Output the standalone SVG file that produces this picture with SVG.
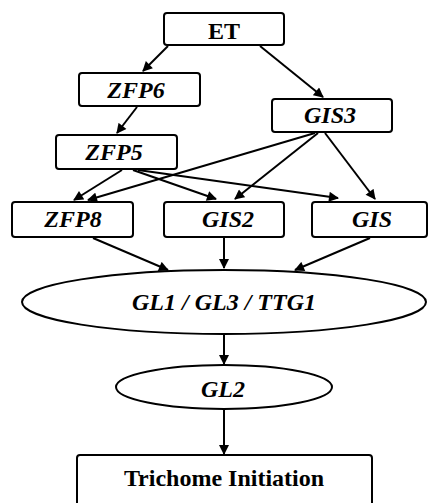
<svg xmlns="http://www.w3.org/2000/svg" width="430" height="503" viewBox="0 0 430 503">
<style>
.box{fill:#fff;stroke:#000;stroke-width:2}
.t{font-family:"Liberation Serif","Times New Roman",serif;font-weight:bold;font-style:italic;font-size:24px;text-anchor:middle;fill:#000}
.n{font-style:normal}
.c line{stroke:#000;stroke-width:2;marker-end:url(#ah)}
</style>
<defs>
<marker id="ah" viewBox="0 0 10 10" refX="9" refY="5" markerWidth="5.5" markerHeight="5" orient="auto" markerUnits="strokeWidth">
<path d="M0,0 L10,5 L0,10 z" fill="#000"/>
</marker>
</defs>
<rect width="430" height="503" fill="#fff"/>
<g id="connectors" class="c">
<line x1="168" y1="46" x2="143" y2="71"/>
<line x1="260" y1="46" x2="323" y2="97"/>
<line x1="137" y1="107" x2="117" y2="133"/>
<line x1="122" y1="170" x2="74" y2="200"/>
<line x1="133" y1="170" x2="216" y2="199"/>
<line x1="138" y1="170" x2="338" y2="198"/>
<line x1="315" y1="133" x2="88" y2="200"/>
<line x1="318" y1="133" x2="235" y2="199"/>
<line x1="325" y1="133" x2="375" y2="199"/>
<line x1="93" y1="238" x2="168" y2="270"/>
<line x1="224" y1="238" x2="224" y2="268"/>
<line x1="370" y1="238" x2="295" y2="270"/>
<line x1="224" y1="335" x2="224" y2="364"/>
<line x1="224" y1="410" x2="224" y2="454"/>
</g>
<g id="ET"><rect class="box" x="164" y="13" width="120" height="32" rx="3"/><text class="t n" x="224" y="39">ET</text></g>
<g id="ZFP6"><rect class="box" x="79" y="73" width="121" height="33" rx="3"/><text class="t" x="136" y="98">ZFP6</text></g>
<g id="GIS3"><rect class="box" x="272" y="99" width="120" height="33" rx="3"/><text class="t" x="330" y="123">GIS3</text></g>
<g id="ZFP5"><rect class="box" x="56" y="135" width="121" height="34" rx="3"/><text class="t" x="114" y="160">ZFP5</text></g>
<g id="ZFP8"><rect class="box" x="12" y="202" width="121" height="35" rx="3"/><text class="t" x="73" y="227">ZFP8</text></g>
<g id="GIS2"><rect class="box" x="164" y="202" width="120" height="35" rx="3"/><text class="t" x="228" y="227">GIS2</text></g>
<g id="GIS"><rect class="box" x="312" y="202" width="115" height="35" rx="3"/><text class="t" x="372" y="227">GIS</text></g>
<g id="GL1_GL3_TTG1"><ellipse class="box" cx="224" cy="302" rx="202" ry="32"/><text class="t" x="224" y="310">GL1 / GL3 / TTG1</text></g>
<g id="GL2"><ellipse class="box" cx="224" cy="387" rx="108" ry="22"/><text class="t" x="223" y="397">GL2</text></g>
<g id="Trichome"><rect class="box" x="77" y="455" width="295" height="60" rx="3"/><text class="t n" x="224" y="486">Trichome Initiation</text></g>
</svg>
